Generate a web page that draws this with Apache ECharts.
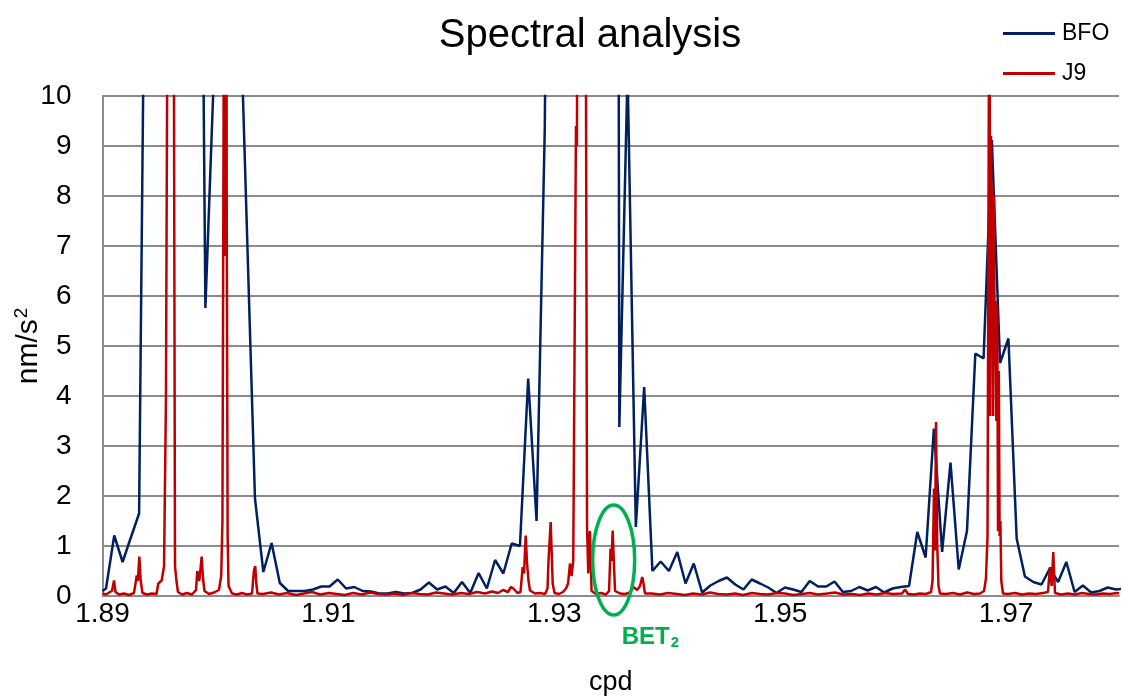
<!DOCTYPE html>
<html>
<head>
<meta charset="utf-8">
<script src="https://cdn.jsdelivr.net/npm/echarts@6/dist/echarts.min.js"></script>
<style>
  html, body { margin: 0; padding: 0; background: #fff; }
  #main { width: 1125px; height: 699px; }
</style>
</head>
<body>
<div id="main"></div>
<script>
// BFO - coarse spectrum (cpd, nm/s2)
const bfoFreq = [1.89, 1.89031, 1.89104, 1.89178, 1.89251, 1.89324, 1.89398, 1.89471, 1.89544, 1.89617, 1.89691,
  1.89764, 1.89837, 1.89911, 1.89984, 1.90057, 1.90131, 1.90204, 1.90277, 1.9035, 1.90424,
  1.90497, 1.9057, 1.90644, 1.90717, 1.9079, 1.90864, 1.90937, 1.9101, 1.91083, 1.91157,
  1.9123, 1.91303, 1.91377, 1.9145, 1.91523, 1.91597, 1.9167, 1.91743, 1.91816, 1.9189,
  1.91963, 1.92036, 1.9211, 1.92183, 1.92256, 1.9233, 1.92403, 1.92476, 1.92549, 1.92623,
  1.92696, 1.92769, 1.92843, 1.92916, 1.92989, 1.93063, 1.93136, 1.93209, 1.93282, 1.93356,
  1.93429, 1.93502, 1.93576, 1.93649, 1.93722, 1.93796, 1.93869, 1.93942, 1.94015, 1.94089,
  1.94162, 1.94235, 1.94309, 1.94382, 1.94455, 1.94529, 1.94602, 1.94675, 1.94748, 1.94822,
  1.94895, 1.94968, 1.95042, 1.95115, 1.95188, 1.95262, 1.95335, 1.95408, 1.95481, 1.95555,
  1.95628, 1.95701, 1.95775, 1.95848, 1.95921, 1.95995, 1.96068, 1.96141, 1.96214, 1.96288,
  1.96361, 1.96434, 1.96508, 1.96581, 1.96654, 1.96728, 1.96801, 1.96874, 1.96947, 1.97021,
  1.97094, 1.97167, 1.97241, 1.97314, 1.97387, 1.97461, 1.97534, 1.97607, 1.9768, 1.97754,
  1.97827, 1.979, 1.97974, 1.98047];
const bfoAmp = [0.1, 0.15, 1.21, 0.68, 1.17, 1.65, 19, 28, 35, 38, 36,
  33, 26, 5.76, 10.3, 30, 40, 13, 7.45, 1.95, 0.48,
  1.06, 0.26, 0.1, 0.1, 0.1, 0.13, 0.19, 0.19, 0.33, 0.15,
  0.18, 0.1, 0.09, 0.05, 0.05, 0.08, 0.05, 0.06, 0.13, 0.27,
  0.13, 0.19, 0.06, 0.28, 0.06, 0.46, 0.15, 0.72, 0.45, 1.05,
  1.0, 4.35, 1.5, 9.36, 30, 45, 50, 55, 50, 45,
  40, 100, 3.38, 10.5, 1.38, 4.18, 0.5, 0.69, 0.5, 0.88,
  0.25, 0.65, 0.07, 0.21, 0.3, 0.37, 0.23, 0.13, 0.33, 0.25,
  0.17, 0.06, 0.17, 0.13, 0.08, 0.3, 0.19, 0.19, 0.29, 0.08,
  0.1, 0.18, 0.11, 0.18, 0.07, 0.15, 0.18, 0.2, 1.28, 0.77,
  3.35, 0.88, 2.67, 0.53, 1.3, 4.85, 4.75, 9.12, 4.66, 5.15,
  1.15, 0.39, 0.28, 0.23, 0.55, 0.28, 0.68, 0.08, 0.21, 0.07,
  0.1, 0.17, 0.13, 0.15];

// J9 - fine spectrum (cpd, nm/s2)
const j9Freq = [1.89, 1.89031, 1.89066, 1.89084, 1.89102, 1.89115, 1.89146, 1.8919, 1.89235, 1.89279,
  1.89303, 1.89313, 1.89326, 1.89338, 1.89354, 1.89394, 1.89438, 1.89478, 1.89494, 1.89524,
  1.89545, 1.89562, 1.8958, 1.89598, 1.89615, 1.89631, 1.89642, 1.89655, 1.89668, 1.89704,
  1.89748, 1.89792, 1.89828, 1.89839, 1.89857, 1.89878, 1.8989, 1.89903, 1.89943, 1.89987,
  1.90031, 1.90051, 1.90062, 1.90072, 1.90079, 1.90086, 1.90093, 1.901, 1.90108, 1.90116,
  1.90147, 1.90191, 1.90235, 1.90279, 1.90324, 1.9034, 1.90352, 1.90362, 1.90372,
  1.90421, 1.90492, 1.90563, 1.90634, 1.90713, 1.90784, 1.90855, 1.90926, 1.91005, 1.91076,
  1.91147, 1.91218, 1.91298, 1.91368, 1.91439, 1.9151, 1.9159, 1.91661, 1.91731, 1.91811,
  1.91882, 1.91953, 1.92024, 1.92094, 1.92174, 1.92245, 1.92316, 1.92387, 1.92449, 1.92502, 1.92546,
  1.9259, 1.92617, 1.92637, 1.92652, 1.92674, 1.92701, 1.9272, 1.92732, 1.92747, 1.92759,
  1.92772, 1.92785, 1.92829, 1.92874, 1.92918, 1.9294, 1.92949, 1.92968, 1.92986, 1.93002,
  1.93042, 1.93077, 1.93104, 1.93122, 1.93139, 1.93153, 1.93168, 1.93192, 1.93201, 1.93215,
  1.93259, 1.93281, 1.9329, 1.93301, 1.93316, 1.9333, 1.9337, 1.93414, 1.93458, 1.93485,
  1.93498, 1.93507, 1.93517, 1.93529, 1.93538, 1.93582, 1.93626, 1.9367, 1.937, 1.93733,
  1.93759, 1.93779, 1.9379, 1.93803,
  1.93865, 1.93936, 1.94007, 1.94087, 1.94157, 1.94228, 1.94308, 1.94379, 1.9445, 1.94529,
  1.946, 1.94671, 1.94751, 1.94822, 1.94892, 1.94972, 1.95043, 1.95114, 1.95193, 1.95264,
  1.95335, 1.95415, 1.95486, 1.95556, 1.95636, 1.95707, 1.95778, 1.95857, 1.95928, 1.95999,
  1.96079, 1.96105, 1.96132, 1.96185, 1.96238, 1.96291,
  1.96336, 1.96349, 1.96362, 1.96371, 1.9638, 1.96391, 1.96402, 1.96415,
  1.96468, 1.9653, 1.96592, 1.96654, 1.96716, 1.96769, 1.96805, 1.96822,
  1.96836, 1.96846, 1.96853, 1.9686, 1.96867, 1.96873, 1.96879, 1.96886, 1.96893, 1.969,
  1.96907, 1.96914, 1.96922, 1.96929, 1.96936, 1.96943, 1.9695, 1.96958, 1.96973,
  1.97017, 1.97079, 1.97141, 1.97203, 1.97265, 1.97327, 1.97371, 1.97389, 1.97404, 1.97418,
  1.97433, 1.97487, 1.97549, 1.9761, 1.97672, 1.97734, 1.97796, 1.97858, 1.9792, 1.97982, 1.98];
const j9Amp = [0.05, 0.03, 0.08, 0.1, 0.31, 0.08, 0.03, 0.05, 0.02, 0.06,
  0.41, 0.3, 0.79, 0.31, 0.06, 0.03, 0.05, 0.04, 0.25, 0.31,
  0.6, 4, 15, 40, 40, 12, 0.6, 0.3, 0.08, 0.03,
  0.06, 0.03, 0.12, 0.5, 0.3, 0.79, 0.35, 0.1, 0.04, 0.07,
  0.12, 0.4, 1.5, 9.5, 25, 6.8, 22, 7.5, 1.2, 0.2,
  0.05, 0.03, 0.06, 0.03, 0.05, 0.5, 0.6, 0.25, 0.05,
  0.04, 0.07, 0.03, 0.06, 0.02, 0.05, 0.08, 0.03, 0.06, 0.04,
  0.02, 0.06, 0.03, 0.07, 0.04, 0.03, 0.05, 0.02, 0.06, 0.04,
  0.03, 0.07, 0.05, 0.03, 0.06, 0.04, 0.08, 0.05, 0.09, 0.06, 0.12,
  0.08, 0.18, 0.15, 0.18, 0.06, 0.08, 0.58, 0.45, 1.21, 0.65,
  0.3, 0.11, 0.05, 0.06, 0.04, 0.15, 0.71, 1.48, 0.25, 0.06,
  0.04, 0.08, 0.15, 0.25, 0.65, 0.4, 0.7, 9.4, 9.0, 40,
  40, 10, 1.4, 0.45, 1.3, 0.1, 0.04, 0.06, 0.03, 0.1,
  0.95, 0.7, 1.31, 0.6, 0.1, 0.05, 0.04, 0.07, 0.18, 0.12,
  0.2, 0.38, 0.25, 0.05,
  0.05, 0.03, 0.06, 0.04, 0.02, 0.05, 0.03, 0.07, 0.04, 0.03,
  0.05, 0.02, 0.06, 0.04, 0.03, 0.06, 0.05, 0.02, 0.04, 0.06,
  0.03, 0.05, 0.07, 0.03, 0.04, 0.02, 0.05, 0.03, 0.06, 0.04,
  0.05, 0.13, 0.04, 0.03, 0.05, 0.04,
  0.08, 0.3, 2.15, 0.91, 3.48, 1.0, 0.2, 0.05,
  0.04, 0.06, 0.03, 0.07, 0.04, 0.05, 0.1, 0.35,
  1.2, 8.9, 14, 3.6, 9.2, 6.9, 8.2, 3.6, 8.0, 4.6,
  5.9, 3.5, 5.8, 1.3, 4.5, 1.2, 1.5, 0.3, 0.05,
  0.04, 0.06, 0.03, 0.05, 0.04, 0.06, 0.08, 0.58, 0.2, 0.88,
  0.06, 0.03, 0.05, 0.03, 0.06, 0.04, 0.03, 0.05, 0.04, 0.06, 0.05];

// BET2 tide marker (cpd, nm/s2)
const bet2Point = [1.93517, 0.72];

const font = 'Liberation Sans, Arial, sans-serif';
const gridColor = '#8c8c8c';

const myChart = echarts.init(document.getElementById('main'), null, { renderer: 'canvas' });

const option = {
  animation: false,
  backgroundColor: '#fff',
  title: {
    text: 'Spectral analysis',
    left: 585,
    top: 11,
    textAlign: 'center',
    textStyle: { fontFamily: font, fontSize: 40, fontWeight: 'normal', color: '#000' }
  },
  legend: {
    orient: 'vertical',
    left: 998,
    top: 17,
    itemWidth: 52,
    itemHeight: 3,
    itemGap: 17,
    icon: 'rect',
    textStyle: { fontFamily: font, fontSize: 23, color: '#000', padding: [0, 0, 0, 2] },
    data: ['BFO', 'J9']
  },
  grid: { left: 102.5, right: 6, top: 96, bottom: 103, containLabel: false, outerBoundsMode: 'none' },
  xAxis: {
    type: 'value',
    min: 1.89,
    max: 1.98,
    interval: 0.02,
    name: 'cpd',
    nameLocation: 'middle',
    nameGap: 73,
    nameMoveOverlap: false,
    nameTextStyle: { fontFamily: font, fontSize: 27, color: '#000' },
    axisLine: { show: true, lineStyle: { color: gridColor, width: 2 } },
    axisTick: { show: false },
    splitLine: { show: false },
    axisLabel: {
      fontFamily: font, fontSize: 28, color: '#000', margin: 4,
      formatter: v => (v > 1.975 ? '' : v.toFixed(2))
    }
  },
  yAxis: {
    type: 'value',
    min: 0,
    max: 10,
    interval: 1,
    name: '{a|nm/s}{b|2}',
    nameLocation: 'middle',
    nameRotate: 90,
    nameGap: 57,
    nameMoveOverlap: false,
    nameTextStyle: {
      fontFamily: font, fontSize: 30, color: '#000',
      rich: {
        a: { fontFamily: font, fontSize: 30, color: '#000' },
        b: { fontFamily: font, fontSize: 19, color: '#000', padding: [0, 0, 14, 1] }
      }
    },
    axisLine: { show: true, lineStyle: { color: gridColor, width: 2 } },
    axisTick: { show: false },
    splitLine: { show: true, lineStyle: { color: gridColor, width: 2 } },
    axisLabel: { fontFamily: font, fontSize: 28, color: '#000', margin: 31 }
  },
  series: [
    {
      name: 'BFO',
      type: 'line',
      showSymbol: false,
      clip: true,
      color: '#002060',
      lineStyle: { width: 2.5, color: '#002060' },
      data: bfoFreq.map((f, i) => [f, bfoAmp[i]])
    },
    {
      name: 'J9',
      type: 'line',
      showSymbol: false,
      clip: true,
      color: '#c00000',
      lineStyle: { width: 2.5, color: '#c00000' },
      data: j9Freq.map((f, i) => [f, j9Amp[i]])
    }
  ]
};
myChart.setOption(option);

// 绿色椭圆和 BET2 标注, 位置跟着数据点走
const c = myChart.convertToPixel({ gridIndex: 0 }, bet2Point);
myChart.setOption({
  graphic: [
    {
      type: 'ellipse',
      shape: { cx: c[0] + 1, cy: c[1], rx: 21, ry: 55 },
      style: { fill: 'none', stroke: '#00b050', lineWidth: 3.5 },
      z: 100
    },
    {
      type: 'text',
      x: c[0] + 9,
      y: c[1] + 65,
      style: {
        text: '{a|BET}{b|2}',
        rich: {
          a: { fontFamily: font, fontSize: 24, fontWeight: 'bold', fill: '#00b050' },
          b: { fontFamily: font, fontSize: 15, fontWeight: 'bold', fill: '#00b050', padding: [10, 0, 0, 1] }
        }
      },
      z: 100
    }
  ]
});
window.addEventListener('resize', myChart.resize);
</script>
</body>
</html>
